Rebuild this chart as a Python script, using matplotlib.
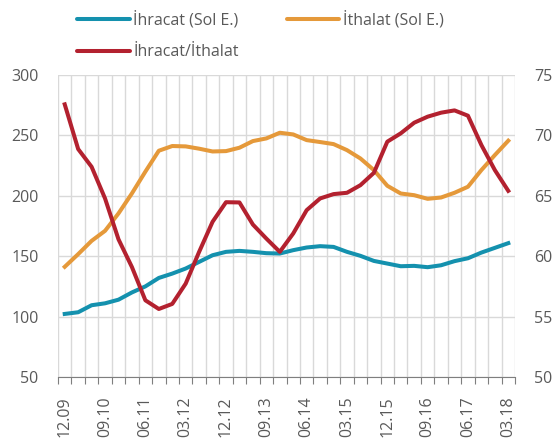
import matplotlib
matplotlib.use("Agg")
import matplotlib.pyplot as plt
from matplotlib.ticker import MultipleLocator, FixedLocator
import numpy as np

# quarterly dates 12.09 .. 03.18
dates = []
y, m = 2009, 12
while (y, m) <= (2018, 3):
    dates.append(f"{m:02d}.{str(y)[2:]}")
    m += 3
    if m > 12:
        m -= 12
        y += 1

ihracat = [102.2, 103.6, 109.4, 111.0, 114.0, 120.0, 125.0, 132.0, 135.6, 139.8,
           145.3, 150.8, 153.6, 154.4, 153.6, 152.5, 152.2, 155.0, 157.2, 158.3,
           157.7, 153.6, 150.3, 146.1, 143.9, 141.7, 142.0, 140.9, 142.5, 145.9,
           148.3, 153.0, 156.9, 160.8]
ithalat = [141.2, 151.7, 162.7, 171.0, 185.4, 202.0, 220.0, 237.3, 241.2, 240.9,
           239.0, 236.7, 237.0, 239.8, 245.3, 247.5, 252.2, 250.8, 246.1, 244.5,
           242.8, 237.8, 230.9, 221.3, 208.3, 201.9, 200.5, 197.5, 198.6, 202.5,
           207.5, 221.3, 233.7, 245.6]
oran = [72.57, 68.87, 67.4, 64.78, 61.4, 59.1, 56.35, 55.63, 56.05, 57.73,
        60.36, 62.85, 64.47, 64.45, 62.62, 61.46, 60.36, 61.88, 63.81, 64.78,
        65.14, 65.25, 65.88, 66.9, 69.48, 70.17, 71.05, 71.55, 71.88, 72.07,
        71.63, 69.2, 67.13, 65.41]

labels = ["İhracat (Sol E.)", "İthalat (Sol E.)", "İhracat/İthalat"]
colors = ["#1491AE", "#E5993A", "#B3212F"]

plt.rcParams['font.family'] = ['Open Sans', 'DejaVu Sans']
txt = "#595959"
grid = "#D9D9D9"

fig = plt.figure(figsize=(5.57, 4.43), dpi=100)
ax = fig.add_axes([58/557, 1-377/443, (515-58)/557, (377-75)/443])
ax2 = ax.twinx()

x = np.arange(len(dates))
lw = 2.9
l1, = ax.plot(x, ihracat, color=colors[0], lw=lw, solid_joinstyle='round', zorder=3)
l2, = ax.plot(x, ithalat, color=colors[1], lw=lw, solid_joinstyle='round', zorder=3)
l3, = ax2.plot(x, oran, color=colors[2], lw=lw, solid_joinstyle='round', zorder=3)

ax.set_xlim(-0.5, len(dates) - 0.5)
ax.set_ylim(50, 300)
ax2.set_ylim(50, 75)
ax.yaxis.set_major_locator(MultipleLocator(50))
ax2.yaxis.set_major_locator(MultipleLocator(5))

ax.set_xticks(x[::3])
ax.set_xticklabels(dates[::3], rotation=90)
ax.xaxis.set_minor_locator(FixedLocator(np.arange(-0.5, len(dates), 1.0)))
ax.tick_params(axis='x', which='major', length=0, pad=14, labelsize=11.5, labelcolor=txt)
ax.tick_params(axis='x', which='minor', length=5, color="#7F7F7F", width=0.8)
ax.tick_params(axis='y', length=0, pad=14, labelsize=11.5, labelcolor=txt)
ax2.tick_params(axis='y', length=0, pad=14, labelsize=11.5, labelcolor=txt)

ax.grid(True, axis='y', color=grid, lw=1)
ax.grid(True, axis='x', which='minor', color=grid, lw=1)
ax.grid(False, axis='x', which='major')
ax.set_axisbelow(True)

for a in (ax, ax2):
    for s in ('top', 'left', 'right', 'bottom'):
        a.spines[s].set_visible(False)
ax.spines['bottom'].set_visible(True)
ax.spines['bottom'].set_color("#7F7F7F")
ax.spines['bottom'].set_linewidth(0.8)

leg = fig.legend([l1, l3, l2], [labels[0], labels[2], labels[1]], ncol=2,
                 loc='upper left', bbox_to_anchor=(63/557, 1.008), frameon=False,
                 fontsize=11.5, handlelength=3.3, columnspacing=3.0,
                 labelspacing=1.0, handletextpad=0.2, labelcolor=txt)
for h in leg.legend_handles:
    h.set_solid_capstyle('round')

fig.savefig("out.png", dpi=100)
